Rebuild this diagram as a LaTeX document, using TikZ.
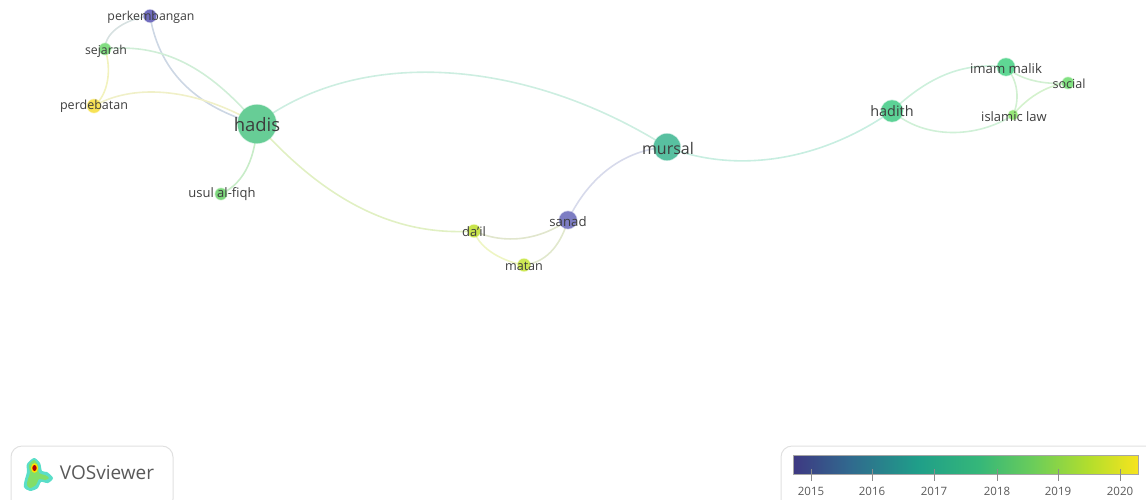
\documentclass[tikz,border=0pt]{standalone}
\usepackage{fontspec}
\setmainfont{Open Sans}
\pgfdeclarelayer{edges}
\pgfsetlayers{edges,main}
\definecolor{cA}{RGB}{62,56,130}
\definecolor{cB}{RGB}{49,104,142}
\definecolor{cC}{RGB}{31,158,137}
\definecolor{cD}{RGB}{53,183,121}
\definecolor{cE}{RGB}{109,205,89}
\definecolor{cF}{RGB}{180,222,44}
\definecolor{cG}{RGB}{247,228,30}
\definecolor{logoOuter}{RGB}{90,222,200}
\definecolor{logoInner}{RGB}{130,222,105}
\pgfdeclarehorizontalshading{virid}{100bp}{color(0bp)=(cA);color(25bp)=(cA);color(33bp)=(cB);color(43bp)=(cC);color(52bp)=(cD);color(60bp)=(cE);color(68bp)=(cF);color(75bp)=(cG);color(100bp)=(cG)}
\tikzset{
  bub/.style 2 args={circle,draw={#2},draw opacity=0.3,line width=1.4pt,fill={#2},inner sep=0pt,minimum size=2*#1-1.4pt},
  lab/.style={inner sep=0pt,text=black!76,font=\fontsize{#1}{#1}\selectfont},
  lk/.style={draw={#1},line width=1.6pt,line cap=round},
  legendbox/.style={draw=black!12,line width=1pt,rounded corners=11pt},
  tickmark/.style={draw=black!45,line width=0.8pt},
  yearlab/.style={inner sep=0pt,text=black!65,font=\fontsize{11.5}{12}\selectfont},
}
\begin{document}
\begin{tikzpicture}[x=1pt,y=-1pt]
\useasboundingbox (0,0) rectangle (1146,499);
% bubbles
\node[bub={20}{rgb,255:red,103;green,205;blue,150}] (hadis) at (257,124) {};
\node[bub={14}{rgb,255:red,88;green,192;blue,160}] (mursal) at (667,147) {};
\node[bub={11.5}{rgb,255:red,92;green,210;blue,150}] (hadith) at (892,111) {};
\node[bub={9.5}{rgb,255:red,95;green,215;blue,148}] (imam) at (1006,67) {};
\node[bub={6.5}{rgb,255:red,130;green,225;blue,130}] (social) at (1068,83) {};
\node[bub={5.5}{rgb,255:red,150;green,230;blue,120}] (islamic) at (1013,115) {};
\node[bub={9.5}{rgb,255:red,125;green,125;blue,195}] (sanad) at (568,220) {};
\node[bub={7}{rgb,255:red,200;green,228;blue,75}] (dail) at (474,231) {};
\node[bub={7}{rgb,255:red,205;green,232;blue,85}] (matan) at (524,265) {};
\node[bub={7}{rgb,255:red,112;green,108;blue,190}] (perk) at (150,16) {};
\node[bub={6.5}{rgb,255:red,130;green,222;blue,130}] (sejarah) at (105,49) {};
\node[bub={7.5}{rgb,255:red,247;green,226;blue,85}] (perd) at (94,106) {};
\node[bub={6.5}{rgb,255:red,125;green,216;blue,125}] (usul) at (221,194) {};
% edges
\begin{pgfonlayer}{edges}
\draw[lk={rgb,255:red,205;green,238;blue,225}] (hadis.center) .. controls (360,46) and (526,58) .. (mursal.center);
\draw[lk={rgb,255:red,200;green,238;blue,225}] (mursal.center) .. controls (730,172) and (815,165) .. (hadith.center);
\draw[lk={rgb,255:red,225;green,240;blue,195}] (hadis.center) .. controls (320,195) and (390,237) .. (dail.center);
\draw[lk={rgb,255:red,200;green,236;blue,200}] (hadis.center) .. controls (255,165) and (240,185) .. (usul.center);
\draw[lk={rgb,255:red,205;green,215;blue,228}] (hadis.center) .. controls (200,108) and (160,75) .. (perk.center);
\draw[lk={rgb,255:red,208;green,238;blue,215}] (hadis.center) .. controls (215,75) and (170,42) .. (sejarah.center);
\draw[lk={rgb,255:red,240;green,240;blue,200}] (hadis.center) .. controls (190,85) and (130,85) .. (perd.center);
\draw[lk={rgb,255:red,215;green,225;blue,225}] (sejarah.center) .. controls (105,30) and (130,18) .. (perk.center);
\draw[lk={rgb,255:red,242;green,242;blue,190}] (sejarah.center) .. controls (112,70) and (108,95) .. (perd.center);
\draw[lk={rgb,255:red,225;green,230;blue,205}] (dail.center) .. controls (505,245) and (540,240) .. (sanad.center);
\draw[lk={rgb,255:red,238;green,245;blue,195}] (dail.center) .. controls (480,250) and (505,262) .. (matan.center);
\draw[lk={rgb,255:red,225;green,232;blue,205}] (matan.center) .. controls (550,262) and (562,240) .. (sanad.center);
\draw[lk={rgb,255:red,215;green,218;blue,235}] (sanad.center) .. controls (590,175) and (625,150) .. (mursal.center);
\draw[lk={rgb,255:red,205;green,240;blue,220}] (hadith.center) .. controls (930,75) and (965,62) .. (imam.center);
\draw[lk={rgb,255:red,208;green,240;blue,215}] (hadith.center) .. controls (925,140) and (978,138) .. (islamic.center);
\draw[lk={rgb,255:red,210;green,240;blue,210}] (imam.center) .. controls (1018,80) and (1020,100) .. (islamic.center);
\draw[lk={rgb,255:red,210;green,240;blue,210}] (imam.center) .. controls (1020,80) and (1045,85) .. (social.center);
\draw[lk={rgb,255:red,212;green,242;blue,205}] (social.center) .. controls (1045,85) and (1025,100) .. (islamic.center);
\end{pgfonlayer}
% labels
\node[lab=18.5] (hadisT) at (257,125) {hadis};
\node[lab=16] (mursalT) at (668,148) {mursal};
\node[lab=14.4] (hadithT) at (892,111) {hadith};
\node[lab=13.2] (imamT) at (1006,69) {imam malik};
\node[lab=12.6] (socialT) at (1069,84) {social};
\node[lab=13] (islamicT) at (1014,117) {islamic law};
\node[lab=13.2] (sanadT) at (568,222) {sanad};
\node[lab=13] (dailT) at (474,232) {da'il};
\node[lab=12.6] (matanT) at (524,266) {matan};
\node[lab=12.3] (perkT) at (151,17) {perkembangan};
\node[lab=12.3] (sejarahT) at (106,51) {sejarah};
\node[lab=12.5] (perdT) at (94,106) {perdebatan};
\node[lab=13] (usulT) at (222,194) {usul al-fiqh};
% VOSviewer badge
\begin{scope}
\clip (0,0) rectangle (1146,499);
\draw[legendbox] (11,446) rectangle (173,510);
\draw[legendbox] (781,446) rectangle (1170,510);
\end{scope}
\fill[logoOuter] plot[smooth cycle] coordinates {(34,458)(40,463)(42,471)(47,472)(53,478)(48,483)(41,482)(38,488)(30,491)(24,487)(25,479)(27,472)(27,464)};
\fill[logoInner] plot[smooth cycle] coordinates {(34,460)(38,465)(39,473)(45,475)(49,478)(45,480)(39,479)(36,485)(30,488)(27,485)(28,479)(30,473)(29,465)};
\fill[yellow!85!orange] (34.5,468) ellipse (3.6 and 4.8);
\fill[red!70!black] (34.5,468) ellipse (2.2 and 3);
\node[inner sep=0pt,text=black!65,font=\fontsize{19}{20}\selectfont] (vos) at (107,473) {VOSviewer};
% colour legend
\draw[shading=virid,draw=black!35,line width=0.4pt] (793,455) rectangle (1138,474);
\foreach \nm/\px in {2015/811,2016/872,2017/934,2018/997,2019/1058,2020/1120}{
  \coordinate (t\nm) at (\px,469);
  \coordinate (b\nm) at (\px,481);
  \draw[tickmark] (t\nm) -- (b\nm);
  \node[yearlab] (y\nm) at (\px,491) {\nm};
}
\end{tikzpicture}
\end{document}
